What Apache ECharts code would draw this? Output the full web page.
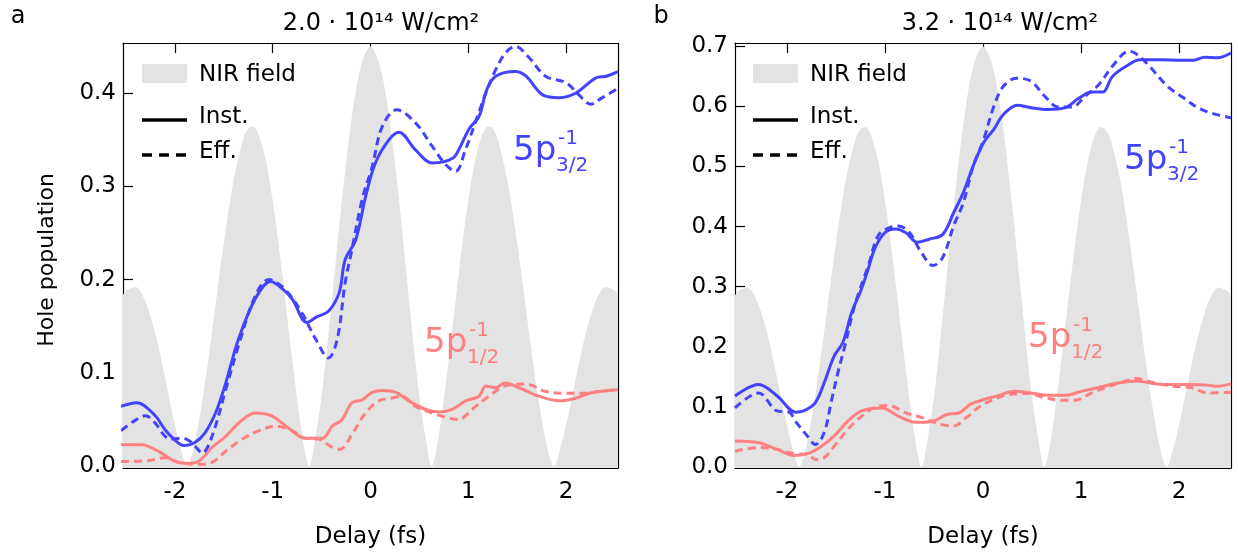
<!DOCTYPE html>
<html>
<head>
<meta charset="utf-8">
<script src="https://cdn.jsdelivr.net/npm/echarts@6/dist/echarts.min.js"></script>
<style>
    html, body { margin: 0; padding: 0; background: #fff; }
    #chart { width: 1238px; height: 554px; }
</style>
</head>
<body>
<div id="chart"></div>
<script>
// delay axis (fs) and tick labels
var delayTicks = [-2, -1, 0, 1, 2];
var holeTicksA = [0, 0.1, 0.2, 0.3, 0.4];
var holeTicksB = [0, 0.1, 0.2, 0.3, 0.4, 0.5, 0.6, 0.7];

// NIR field (grey area)
var nirT = [-2.55, -2.5, -2.4, -2.3, -2.2, -2.1, -2.0, -1.9, -1.875, -1.8, -1.7, -1.6, -1.5, -1.4, -1.3, -1.25, -1.2,
    -1.1, -1.0, -0.9, -0.8, -0.7, -0.625, -0.6, -0.5, -0.4, -0.3, -0.2, -0.1, 0,
    0.1, 0.2, 0.3, 0.4, 0.5, 0.6, 0.625, 0.7, 0.8, 0.9, 1.0, 1.1, 1.2, 1.25, 1.3, 1.4, 1.5, 1.6, 1.7, 1.8,
    1.875, 1.9, 2.0, 2.1, 2.2, 2.3, 2.4, 2.5, 2.55];
var nirA = [0.179, 0.188, 0.192, 0.176, 0.142, 0.095, 0.044, 0.004, 0, 0.023, 0.083, 0.160, 0.239, 0.306, 0.351, 0.362, 0.364,
    0.341, 0.285, 0.204, 0.114, 0.034, 0, 0.007, 0.075, 0.172, 0.277, 0.367, 0.428, 0.450,
    0.428, 0.367, 0.277, 0.172, 0.075, 0.007, 0, 0.034, 0.114, 0.204, 0.285, 0.341, 0.364, 0.362, 0.351, 0.306, 0.239, 0.160, 0.083, 0.023,
    0, 0.004, 0.044, 0.095, 0.142, 0.176, 0.192, 0.188, 0.179];
var nirB = [0.279, 0.292, 0.298, 0.274, 0.221, 0.148, 0.069, 0.006, 0, 0.036, 0.130, 0.249, 0.372, 0.477, 0.546, 0.562, 0.566,
    0.530, 0.443, 0.318, 0.178, 0.053, 0, 0.011, 0.116, 0.268, 0.431, 0.571, 0.666, 0.700,
    0.666, 0.571, 0.431, 0.268, 0.116, 0.011, 0, 0.053, 0.178, 0.318, 0.443, 0.530, 0.566, 0.562, 0.546, 0.477, 0.372, 0.249, 0.130, 0.036,
    0, 0.006, 0.069, 0.148, 0.221, 0.274, 0.298, 0.292, 0.279];

// panel a: 2.0e14 W/cm2  [delay, hole population]
var a32Inst = [[-2.55, 0.064], [-2.39, 0.068], [-2.2, 0.054], [-2.1, 0.039], [-2.0, 0.028], [-1.91, 0.022], [-1.8, 0.025],
    [-1.69, 0.036], [-1.58, 0.058], [-1.48, 0.089], [-1.35, 0.136], [-1.18, 0.179], [-1.02, 0.198], [-0.9, 0.19],
    [-0.8, 0.179], [-0.65, 0.154], [-0.55, 0.16], [-0.43, 0.166], [-0.32, 0.186], [-0.26, 0.221], [-0.15, 0.243],
    [-0.05, 0.289], [0.05, 0.325], [0.19, 0.35], [0.29, 0.358], [0.46, 0.339], [0.63, 0.325], [0.84, 0.33],
    [0.92, 0.343], [1.01, 0.362], [1.11, 0.375], [1.19, 0.404], [1.28, 0.418], [1.48, 0.423], [1.59, 0.418],
    [1.76, 0.398], [1.93, 0.395], [2.1, 0.4], [2.3, 0.416], [2.41, 0.418], [2.53, 0.423]];
var a32Eff = [[-2.55, 0.038], [-2.42, 0.048], [-2.3, 0.054], [-2.2, 0.046], [-2.1, 0.032], [-2.03, 0.029], [-1.93, 0.030],
    [-1.85, 0.027], [-1.79, 0.021], [-1.72, 0.014], [-1.62, 0.032], [-1.48, 0.082], [-1.35, 0.129], [-1.18, 0.182],
    [-1.04, 0.2], [-0.87, 0.189], [-0.7, 0.164], [-0.56, 0.136], [-0.43, 0.116], [-0.34, 0.136], [-0.26, 0.196],
    [-0.19, 0.232], [-0.085, 0.286], [0.017, 0.321], [0.12, 0.364], [0.27, 0.382], [0.46, 0.368], [0.63, 0.343],
    [0.77, 0.323], [0.87, 0.316], [0.97, 0.339], [1.08, 0.371], [1.18, 0.4], [1.28, 0.425], [1.38, 0.443],
    [1.48, 0.45], [1.62, 0.438], [1.79, 0.418], [2.0, 0.411], [2.13, 0.398], [2.25, 0.388], [2.37, 0.395], [2.53, 0.405]];
var a12Inst = [[-2.55, 0.023], [-2.34, 0.023], [-2.17, 0.016], [-2.0, 0.005], [-1.89, 0.003], [-1.76, 0.005], [-1.62, 0.02],
    [-1.48, 0.032], [-1.35, 0.046], [-1.18, 0.057], [-1.01, 0.054], [-0.84, 0.041], [-0.67, 0.03], [-0.49, 0.03],
    [-0.39, 0.043], [-0.29, 0.05], [-0.19, 0.068], [-0.085, 0.071], [0.017, 0.079], [0.12, 0.081], [0.26, 0.079],
    [0.39, 0.07], [0.56, 0.061], [0.7, 0.058], [0.84, 0.061], [0.97, 0.07], [1.11, 0.075], [1.18, 0.086],
    [1.28, 0.084], [1.37, 0.089], [1.52, 0.084], [1.72, 0.075], [1.93, 0.07], [2.1, 0.073], [2.27, 0.079], [2.53, 0.082]];
var a12Eff = [[-2.55, 0.005], [-2.27, 0.006], [-2.1, 0.009], [-1.96, 0.004], [-1.76, 0.002], [-1.62, 0.004], [-1.48, 0.016],
    [-1.31, 0.029], [-1.14, 0.038], [-0.97, 0.043], [-0.8, 0.038], [-0.67, 0.03], [-0.53, 0.029], [-0.39, 0.02],
    [-0.31, 0.018], [-0.19, 0.034], [-0.05, 0.057], [0.085, 0.07], [0.22, 0.073], [0.32, 0.075], [0.46, 0.064],
    [0.63, 0.057], [0.9, 0.05], [1.04, 0.061], [1.21, 0.075], [1.38, 0.086], [1.59, 0.088], [1.79, 0.08],
    [2.0, 0.078], [2.17, 0.078], [2.34, 0.08], [2.53, 0.082]];

// panel b: 3.2e14 W/cm2
var b32Inst = [[-2.53, 0.118], [-2.29, 0.137], [-2.1, 0.118], [-1.91, 0.091], [-1.83, 0.093], [-1.71, 0.107], [-1.62, 0.14],
    [-1.52, 0.184], [-1.43, 0.207], [-1.34, 0.257], [-1.24, 0.296], [-1.17, 0.33], [-1.1, 0.365], [-1.0, 0.39],
    [-0.89, 0.396], [-0.79, 0.39], [-0.67, 0.374], [-0.55, 0.379], [-0.41, 0.387], [-0.3, 0.423], [-0.2, 0.457],
    [-0.1, 0.501], [0.007, 0.54], [0.11, 0.562], [0.21, 0.587], [0.35, 0.602], [0.49, 0.598], [0.66, 0.595],
    [0.84, 0.598], [0.98, 0.614], [1.11, 0.624], [1.22, 0.624], [1.32, 0.65], [1.46, 0.667], [1.6, 0.678],
    [1.81, 0.678], [2.01, 0.677], [2.15, 0.677], [2.26, 0.682], [2.39, 0.681], [2.53, 0.689]];
var b32Eff = [[-2.53, 0.098], [-2.29, 0.123], [-2.1, 0.093], [-1.98, 0.091], [-1.9, 0.073], [-1.79, 0.051], [-1.71, 0.037],
    [-1.62, 0.057], [-1.55, 0.107], [-1.48, 0.157], [-1.41, 0.201], [-1.31, 0.268], [-1.17, 0.335], [-1.07, 0.385],
    [-0.96, 0.398], [-0.86, 0.401], [-0.75, 0.39], [-0.63, 0.357], [-0.51, 0.335], [-0.41, 0.349], [-0.3, 0.401],
    [-0.2, 0.44], [-0.1, 0.501], [0.007, 0.545], [0.11, 0.6], [0.21, 0.634], [0.34, 0.647], [0.49, 0.642],
    [0.63, 0.617], [0.77, 0.599], [0.91, 0.599], [1.04, 0.617], [1.18, 0.636], [1.32, 0.667], [1.49, 0.692],
    [1.55, 0.689], [1.67, 0.672], [1.88, 0.634], [2.05, 0.614], [2.19, 0.598], [2.33, 0.589], [2.53, 0.581]];
var b12Inst = [[-2.53, 0.043], [-2.29, 0.04], [-2.1, 0.029], [-1.93, 0.019], [-1.79, 0.022], [-1.65, 0.034], [-1.52, 0.051],
    [-1.38, 0.076], [-1.24, 0.093], [-1.03, 0.098], [-0.86, 0.084], [-0.69, 0.074], [-0.51, 0.076], [-0.37, 0.087],
    [-0.24, 0.09], [-0.13, 0.104], [0.007, 0.112], [0.145, 0.118], [0.32, 0.126], [0.49, 0.123], [0.66, 0.119],
    [0.84, 0.119], [1.01, 0.126], [1.18, 0.132], [1.36, 0.139], [1.56, 0.143], [1.77, 0.138], [1.94, 0.137],
    [2.12, 0.137], [2.29, 0.136], [2.39, 0.134], [2.53, 0.138]];
var b12Eff = [[-2.53, 0.026], [-2.29, 0.032], [-2.1, 0.029], [-1.93, 0.022], [-1.79, 0.021], [-1.71, 0.012], [-1.62, 0.015],
    [-1.52, 0.034], [-1.38, 0.062], [-1.24, 0.084], [-1.07, 0.101], [-0.96, 0.102], [-0.79, 0.09], [-0.62, 0.082],
    [-0.44, 0.071], [-0.3, 0.068], [-0.17, 0.082], [-0.03, 0.101], [0.11, 0.112], [0.28, 0.121], [0.46, 0.122],
    [0.63, 0.115], [0.8, 0.111], [0.94, 0.111], [1.11, 0.123], [1.29, 0.134], [1.46, 0.143], [1.56, 0.147],
    [1.74, 0.14], [1.94, 0.134], [2.12, 0.132], [2.29, 0.123], [2.53, 0.124]];

var FONT = 'DejaVu Sans';
var BLUE = '#4343ff';
var RED = '#ff8080';
var GREY = '#e3e3e3';
var DASH = [8, 5];

function pairs(xs, ys) {
    return xs.map(function (x, i) { return [x, ys[i]]; });
}

function xAxes(grid) {
    var common = {
        type: 'value', gridIndex: grid, min: -2.53, max: 2.53,
        axisLine: {onZero: false, lineStyle: {color: '#000', width: 1.2}},
        splitLine: {show: false}
    };
    return [
        Object.assign({}, common, {
            position: 'bottom',
            name: 'Delay (fs)', nameLocation: 'middle', nameGap: 58,
            nameTextStyle: {fontFamily: FONT, fontSize: 23, color: '#000'},
            axisTick: {inside: true, length: 10, customValues: delayTicks, lineStyle: {color: '#000', width: 1.2}},
            axisLabel: {customValues: delayTicks, margin: 13, fontFamily: FONT, fontSize: 23, color: '#000'}
        }),
        Object.assign({}, common, {
            position: 'top',
            axisTick: {inside: true, length: 10, customValues: delayTicks, lineStyle: {color: '#000', width: 1.2}},
            axisLabel: {show: false}
        })
    ];
}

function yAxes(grid, max, ticks) {
    var common = {
        type: 'value', gridIndex: grid, min: -0.002, max: max,
        axisLine: {show: true, onZero: false, lineStyle: {color: '#000', width: 1.2}},
        splitLine: {show: false}
    };
    return [
        Object.assign({}, common, {
            position: 'left',
            axisTick: {inside: true, length: 10, customValues: ticks, lineStyle: {color: '#000', width: 1.2}},
            axisLabel: {
                customValues: ticks, margin: 7, fontFamily: FONT, fontSize: 23, color: '#000',
                formatter: function (v) { return v.toFixed(1); }
            }
        }),
        Object.assign({}, common, {
            position: 'right',
            axisTick: {show: false},
            axisLabel: {show: false}
        })
    ];
}

function curve(data, color, dashed, xi, yi) {
    return {
        type: 'line', xAxisIndex: xi, yAxisIndex: yi, data: data,
        smooth: 0.35, symbol: 'none', silent: true, z: 3,
        lineStyle: {color: color, width: 3, type: dashed ? DASH : 'solid'}
    };
}

function nirSeries(vals, xi, yi) {
    return {
        type: 'line', xAxisIndex: xi, yAxisIndex: yi, data: pairs(nirT, vals),
        smooth: 0.3, symbol: 'none', silent: true, z: 1,
        lineStyle: {width: 0},
        areaStyle: {color: GREY, opacity: 1, origin: 'start'}
    };
}

// orbital label 5p with stacked ^-1 and _j
function orbital(x, y, sub, color) {
    var f = {fontFamily: FONT, fill: color, verticalAlign: 'middle', align: 'left'};
    return [
        {type: 'text', z: 20, x: x, y: y, style: Object.assign({text: '5p', fontSize: 34}, f)},
        {type: 'text', z: 20, x: x + 45, y: y - 12, style: Object.assign({text: '-1', fontSize: 20}, f)},
        {type: 'text', z: 20, x: x + 43, y: y + 15, style: Object.assign({text: sub, fontSize: 20}, f)}
    ];
}

function legend(x) {
    var t = {fontFamily: FONT, fontSize: 23, fill: '#000', verticalAlign: 'middle', align: 'left'};
    return [
        {type: 'rect', z: 20, shape: {x: x, y: 64, width: 45, height: 19}, style: {fill: GREY}},
        {type: 'text', z: 20, x: x + 57, y: 75, style: Object.assign({text: 'NIR field'}, t)},
        {type: 'line', z: 20, shape: {x1: x, y1: 120, x2: x + 45, y2: 120}, style: {stroke: '#000', lineWidth: 3.5}},
        {type: 'text', z: 20, x: x + 57, y: 117, style: Object.assign({text: 'Inst.'}, t)},
        {type: 'line', z: 20, shape: {x1: x, y1: 155, x2: x + 45, y2: 155}, style: {stroke: '#000', lineWidth: 3.5, lineDash: [10, 7]}},
        {type: 'text', z: 20, x: x + 57, y: 152, style: Object.assign({text: 'Eff.'}, t)}
    ];
}

function plainText(text, x, y, size) {
    return {
        type: 'text', z: 20, x: x, y: y,
        style: {text: text, fontFamily: FONT, fontSize: size, fill: '#000', align: 'center', verticalAlign: 'middle'}
    };
}

var chart = echarts.init(document.getElementById('chart'));

var graphics = [
    plainText('a', 18, 17, 24),
    plainText('b', 661, 17, 24),
    plainText('2.0 \u00b7 10\u00b9\u2074 W/cm\u00b2', 381, 24, 24),
    plainText('3.2 \u00b7 10\u00b9\u2074 W/cm\u00b2', 1000, 24, 24),
    {
        type: 'text', z: 20, x: 47, y: 260, rotation: Math.PI / 2,
        style: {text: 'Hole population', fontFamily: FONT, fontSize: 22, fill: '#000', align: 'center', verticalAlign: 'middle'}
    }
]
    .concat(legend(142))
    .concat(legend(753))
    .concat(orbital(513, 151, '3/2', BLUE))
    .concat(orbital(424, 343, '1/2', RED))
    .concat(orbital(1124, 160, '3/2', BLUE))
    .concat(orbital(1028, 338, '1/2', RED));

chart.setOption({
    animation: false,
    backgroundColor: '#fff',
    grid: [
        {left: 123, top: 43, width: 495, height: 425},
        {left: 735, top: 43, width: 496, height: 425}
    ],
    xAxis: xAxes(0).concat(xAxes(1)),
    yAxis: yAxes(0, 0.4536, holeTicksA).concat(yAxes(1, 0.7057, holeTicksB)),
    series: [
        nirSeries(nirA, 0, 0),
        curve(a12Eff, RED, true, 0, 0),
        curve(a12Inst, RED, false, 0, 0),
        curve(a32Eff, BLUE, true, 0, 0),
        curve(a32Inst, BLUE, false, 0, 0),
        nirSeries(nirB, 2, 2),
        curve(b12Eff, RED, true, 2, 2),
        curve(b12Inst, RED, false, 2, 2),
        curve(b32Eff, BLUE, true, 2, 2),
        curve(b32Inst, BLUE, false, 2, 2)
    ],
    graphic: graphics
});
</script>
</body>
</html>
